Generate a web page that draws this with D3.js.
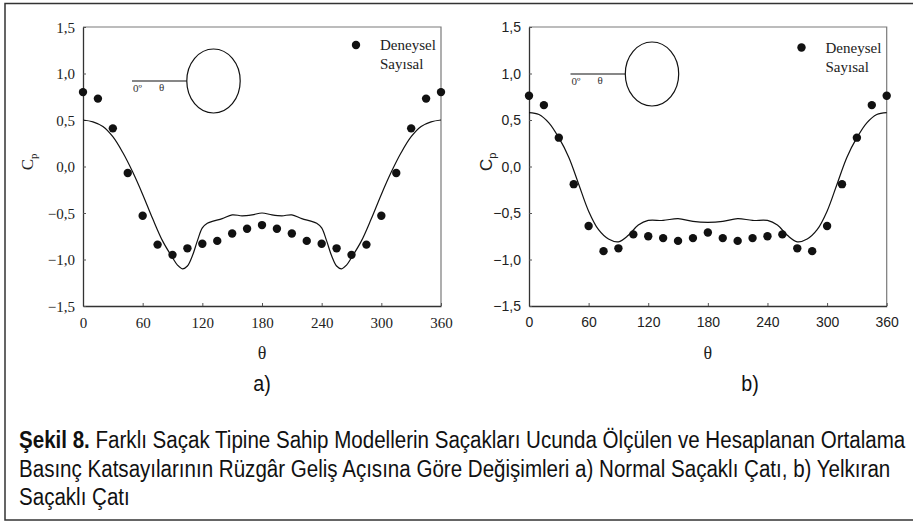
<!DOCTYPE html>
<html>
<head>
<meta charset="utf-8">
<script src="https://cdn.jsdelivr.net/npm/d3@7"></script>
<style>
  body { margin: 0; background: #fff; }
  svg { display: block; }
</style>
</head>
<body>
<script>
var width = 913;
var height = 522;

// aci (derece) ve Cp degerleri
var expAngles = [0, 15, 30, 45, 60, 75, 90, 105, 120, 135, 150, 165, 180,
                 195, 210, 225, 240, 255, 270, 285, 300, 315, 330, 345, 360];
var expA = [0.80, 0.73, 0.41, -0.07, -0.53, -0.84, -0.95, -0.88, -0.83, -0.80, -0.72, -0.67, -0.63,
            -0.67, -0.72, -0.80, -0.83, -0.88, -0.95, -0.84, -0.53, -0.07, 0.41, 0.73, 0.80];
var expB = [0.76, 0.66, 0.31, -0.19, -0.64, -0.91, -0.88, -0.73, -0.75, -0.77, -0.80, -0.77, -0.71,
            -0.77, -0.80, -0.77, -0.75, -0.73, -0.88, -0.91, -0.64, -0.19, 0.31, 0.66, 0.76];

var numAnglesA = [0, 10, 20, 30, 40, 50, 60, 70, 80, 90, 95, 100, 105, 110, 115, 120, 125, 130, 140, 150, 160, 170, 180,
                  190, 200, 210, 220, 230, 235, 240, 245, 250, 255, 260, 265, 270, 280, 290, 300, 310, 320, 330, 340, 350, 360];
var numA = [0.50, 0.48, 0.43, 0.32, 0.15, -0.06, -0.30, -0.56, -0.80, -0.98, -1.06, -1.10, -1.07, -0.96, -0.80, -0.66, -0.61, -0.59, -0.56, -0.52, -0.53, -0.52, -0.50,
            -0.52, -0.53, -0.52, -0.56, -0.59, -0.61, -0.66, -0.80, -0.96, -1.07, -1.10, -1.06, -0.98, -0.80, -0.56, -0.30, -0.06, 0.15, 0.32, 0.43, 0.48, 0.50];

var numAnglesB = [0, 10, 20, 30, 40, 50, 60, 70, 80, 90, 100, 110, 120, 135, 150, 165, 180,
                  195, 210, 225, 240, 250, 260, 270, 280, 290, 300, 310, 320, 330, 340, 350, 360];
var numB = [0.58, 0.56, 0.47, 0.31, 0.10, -0.19, -0.48, -0.68, -0.78, -0.81, -0.74, -0.63, -0.58, -0.58, -0.56, -0.59, -0.60,
            -0.59, -0.56, -0.58, -0.58, -0.63, -0.74, -0.81, -0.78, -0.68, -0.48, -0.19, 0.10, 0.31, 0.47, 0.56, 0.58];

var xTicks = [0, 60, 120, 180, 240, 300, 360];
var yTicks = [-1.5, -1.0, -0.5, 0.0, 0.5, 1.0, 1.5];
var legendLabels = ['Deneysel', 'Sayısal'];

var captionLines = [
  ['Şekil 8.', ' Farklı Saçak Tipine Sahip Modellerin Saçakları Ucunda Ölçülen ve Hesaplanan Ortalama'],
  ['', 'Basınç Katsayılarının Rüzgâr Geliş Açısına Göre Değişimleri a) Normal Saçaklı Çatı, b) Yelkıran'],
  ['', 'Saçaklı Çatı']
];

var serif = '"Liberation Serif", "Times New Roman", serif';
var sans = '"Liberation Sans", Arial, sans-serif';

var svg = d3.select('body')
  .append('svg')
  .attr('width', width)
  .attr('height', height);

// dis cerceve
svg.append('rect')
  .attr('x', 5)
  .attr('y', 3.5)
  .attr('width', 930)
  .attr('height', 516.5)
  .style('fill', 'none')
  .style('stroke', '#333')
  .style('stroke-width', 1.5);

function drawPanel(opt) {
  var x = d3.scaleLinear().domain([0, 360]).range([opt.left, opt.right]);
  var y = d3.scaleLinear().domain([-1.5, 1.5]).range([306, 27]);
  var g = svg.append('g');

  // ust ve sag cerceve (gri)
  g.append('path')
    .attr('d', 'M' + x(0) + ',' + y(1.5) + 'H' + x(360) + 'V' + y(-1.5))
    .style('fill', 'none')
    .style('stroke', '#7a7a7a')
    .style('stroke-width', 1.2);

  var xAxis = g.append('g')
    .attr('transform', 'translate(0,' + y(-1.5) + ')')
    .call(d3.axisBottom(x).tickValues(xTicks).tickSizeInner(-3).tickSizeOuter(0).tickPadding(8)
      .tickFormat(d3.format('d')));
  var yAxis = g.append('g')
    .attr('transform', 'translate(' + x(0) + ',0)')
    .call(d3.axisLeft(y).tickValues(yTicks).tickSizeInner(-3).tickSizeOuter(0).tickPadding(8)
      .tickFormat(function (d) { return d3.format('.1f')(d).replace('.', ','); }));

  [xAxis, yAxis].forEach(function (a) {
    a.attr('font-family', null);
    a.select('.domain').style('stroke', '#333').style('stroke-width', 1.3);
    a.selectAll('.tick line').style('stroke', '#555');
    a.selectAll('.tick text')
      .style('font-family', opt.tickFont)
      .style('font-size', opt.tickSize)
      .style('fill', '#222');
  });
  xAxis.selectAll('.tick text').attr('dy', '0.9em');
  yAxis.selectAll('.tick text').attr('dy', '0.35em');

  // sayisal cozum
  var line = d3.line()
    .x(function (d) { return x(d[0]); })
    .y(function (d) { return y(d[1]); })
    .curve(d3.curveCatmullRom);
  g.append('path')
    .datum(d3.zip(opt.numAngles, opt.num))
    .attr('d', line)
    .style('fill', 'none')
    .style('stroke', '#111')
    .style('stroke-width', 1.2);

  // deneysel
  g.selectAll('circle.exp')
    .data(d3.zip(expAngles, opt.exp))
    .enter()
    .append('circle')
    .attr('class', 'exp')
    .attr('cx', function (d) { return x(d[0]); })
    .attr('cy', function (d) { return y(d[1]); })
    .attr('r', 4.2)
    .style('fill', '#111');

  // legend
  g.append('circle')
    .attr('cx', opt.legX)
    .attr('cy', opt.legY)
    .attr('r', 4.2)
    .style('fill', '#111');
  g.selectAll('text.leg')
    .data(legendLabels)
    .enter()
    .append('text')
    .attr('class', 'leg')
    .attr('x', opt.legX + 24)
    .attr('y', function (d, i) { return opt.legY + 5 + i * 19; })
    .style('font-family', serif)
    .style('font-size', '15px')
    .style('fill', '#222')
    .text(function (d) { return d; });

  // ic sema: ruzgar yonu ve silindir
  var ins = opt.inset;
  g.append('line')
    .attr('x1', ins.x0).attr('x2', ins.cx - ins.rx)
    .attr('y1', ins.cy).attr('y2', ins.cy)
    .style('stroke', '#111')
    .style('stroke-width', 1.1);
  g.append('ellipse')
    .attr('cx', ins.cx).attr('cy', ins.cy)
    .attr('rx', ins.rx).attr('ry', ins.ry)
    .style('fill', 'none')
    .style('stroke', '#111')
    .style('stroke-width', 1.2);
  g.append('text')
    .attr('x', ins.x0 + 1)
    .attr('y', ins.cy + 11)
    .style('font-family', serif)
    .style('font-size', '11px')
    .style('fill', '#333')
    .text('0º');
  g.append('text')
    .attr('x', ins.x0 + 27)
    .attr('y', ins.cy + 10)
    .style('font-family', serif)
    .style('font-size', '11px')
    .style('fill', '#333')
    .text('θ');

  // eksen basliklari
  var cp = g.append('text')
    .attr('transform', 'translate(' + opt.cpX + ',' + y(0.05) + ') rotate(-90)')
    .attr('text-anchor', 'middle')
    .style('font-family', opt.tickFont)
    .style('font-size', '17px')
    .style('fill', '#222');
  cp.append('tspan').text('C');
  cp.append('tspan').attr('dy', 4).style('font-size', '11px').text('p');

  g.append('text')
    .attr('x', x(180))
    .attr('y', 359)
    .attr('text-anchor', 'middle')
    .style('font-family', serif)
    .style('font-size', '18px')
    .style('fill', '#222')
    .text('θ');

  g.append('text')
    .attr('class', 'sub')
    .attr('x', opt.labelX)
    .attr('y', 391)
    .attr('text-anchor', 'middle')
    .style('font-family', sans)
    .style('font-size', '22px')
    .style('fill', '#111')
    .text(opt.label);
}

drawPanel({
  left: 83, right: 441, exp: expA, numAngles: numAnglesA, num: numA,
  tickFont: serif, tickSize: '15px', legX: 356, legY: 45, cpX: 33, labelX: 262, label: 'a)',
  inset: { x0: 132, cx: 213.5, cy: 81, rx: 26.7, ry: 32 }
});
drawPanel({
  left: 529, right: 886.7, exp: expB, numAngles: numAnglesB, num: numB,
  tickFont: sans, tickSize: '14px', legX: 801.5, legY: 47.5, cpX: 492, labelX: 750, label: 'b)',
  inset: { x0: 570.5, cx: 652, cy: 74, rx: 26.7, ry: 32 }
});

// sekil aciklamasi (dar yazi: yatayda sikistirilir)
var cap = svg.selectAll('text.caption')
  .data(captionLines)
  .enter()
  .append('text')
  .attr('class', 'caption')
  .attr('x', 0)
  .attr('y', 0)
  .style('font-family', sans)
  .style('font-size', '23px')
  .style('fill', '#111');
cap.append('tspan')
  .style('font-weight', 'bold')
  .text(function (d) { return d[0]; });
cap.append('tspan')
  .text(function (d) { return d[1]; });

var natural = cap.nodes()[0].getComputedTextLength();
var sx = 887 / natural;
cap.attr('transform', function (d, i) {
  return 'translate(19,' + (448 + i * 28.5) + ') scale(' + sx + ',1)';
});

// a) b) etiketleri de ayni oranda dar
svg.selectAll('text.sub').each(function () {
  var t = d3.select(this);
  var cx = +t.attr('x');
  var cy = +t.attr('y');
  t.attr('x', 0).attr('y', 0)
    .attr('transform', 'translate(' + cx + ',' + cy + ') scale(' + sx + ',1)');
});
</script>
</body>
</html>
